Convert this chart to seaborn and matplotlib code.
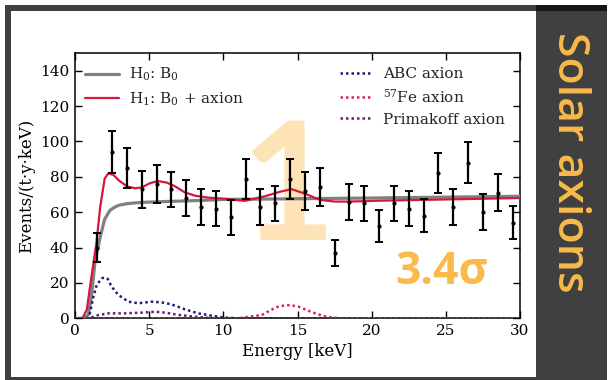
import matplotlib
matplotlib.use("Agg")
import matplotlib.pyplot as plt
from matplotlib.patches import Rectangle
from matplotlib.lines import Line2D
import numpy as np
import pandas as pd
import seaborn as sns

# Measured spectrum (bin centres, rates, 1-sigma errors)
bin_energy = [1.5, 2.5, 3.5, 4.5, 5.5, 6.5, 7.5, 8.5, 9.5, 10.5, 11.5, 12.5, 13.5, 14.5,
              15.5, 16.5, 17.5, 18.5, 19.5, 20.5, 21.5, 22.5, 23.5, 24.5, 25.5, 26.5,
              27.5, 28.5, 29.5]
bin_rate = [40, 94, 85, 73, 76, 73, 68, 63, 62, 57, 79, 63, 65, 79,
            72, 74, 37, 66, 65, 52, 65, 62, 58, 82, 63, 88,
            60, 71, 54]
bin_error = [8, 12, 11.5, 10.5, 10.7, 10, 10.3, 10, 10, 9.7, 11.3, 10, 10, 11.3,
             10.7, 10.7, 7.5, 10.2, 10, 9, 10, 10, 9.3, 11.3, 10, 11.6,
             10, 10.6, 9.3]

# Background-only model H0
h0_energy = [0, 0.6, 0.9, 1.1, 1.35, 1.7, 2.0, 2.35, 2.7, 3.0, 3.5, 4.4, 6, 8.4, 10,
             15, 20, 25, 30]
h0_rate = [0, 0, 2, 12, 32, 46, 56, 61, 63, 64, 64.8, 65.5, 66, 66.6, 67.2,
           67.6, 68, 68.5, 69]

# Background + axion model H1
h1_energy = [0, 0.5, 0.8, 1.1, 1.45, 1.7, 2.0, 2.25, 2.6, 2.95, 3.5, 4.05, 4.5, 5.05,
             5.6, 6.2, 6.75, 7.4, 8.1, 9.0, 10.1, 11.45, 12.8, 13.8, 14.6, 15.5,
             16.5, 17.5, 18.5, 20.5, 25, 30]
h1_rate = [0, 0, 5, 23, 43, 63, 79, 82, 81, 78, 74.6, 73.5, 74, 76.4,
           77.6, 76.7, 74.6, 71.2, 69.3, 68.2, 67.6, 66.4, 69, 71.5, 73, 70.5,
           67, 66, 66, 66.5, 67.2, 68]

# Axion signal components
abc_energy = [0, 0.8, 1.0, 1.24, 1.46, 1.8, 2.0, 2.2, 2.47, 2.92, 3.6, 4.27, 5.17,
              5.84, 6.5, 7.4, 8.3, 9.2, 10.1, 11, 30]
abc_rate = [0, 0, 2.8, 12.2, 18.8, 22.6, 23, 22.3, 17.9, 13.2, 9.4, 8.5, 9.4,
            9.0, 7.9, 5.1, 2.8, 1.5, 0.4, 0, 0]

fe57_energy = [0, 11, 12.6, 13.5, 13.82, 14.5, 15.06, 15.6, 16.2, 16.75, 17.4, 18, 30]
fe57_rate = [0, 0, 1.9, 6.0, 6.9, 7.5, 6.6, 4.7, 2.8, 1.3, 0.4, 0, 0]

prim_energy = [0, 0.9, 1.57, 2.25, 3.37, 4.5, 5.4, 6.07, 7.0, 8.1, 9.4, 30]
prim_rate = [0, 0, 1.8, 2.8, 2.8, 3.2, 3.7, 3.2, 1.9, 0.9, 0, 0]

x_ticks = [0, 5, 10, 15, 20, 25, 30]
y_ticks = [0, 20, 40, 60, 80, 100, 120, 140]

sns.set_theme(style="ticks")
plt.rcParams["font.family"] = ["DejaVu Serif"]
plt.rcParams["mathtext.fontset"] = "dejavuserif"

W, H = 610, 380
fig = plt.figure(figsize=(W / 100, H / 100), dpi=100, facecolor="white")

# Slide frame and side panel
fig.patches.append(Rectangle((8 / W, 0), (604 - 8) / W, (H - 8) / H, transform=fig.transFigure,
                             fill=False, edgecolor="#404040", linewidth=4.3, zorder=0))
fig.patches.append(Rectangle((536 / W, 0), (607 - 536) / W, (H - 5) / H, transform=fig.transFigure,
                             facecolor="#404040", edgecolor="none", zorder=1))
fig.patches.append(Rectangle((536 / W, 1 - 11 / H), (607 - 536) / W, 6 / H, transform=fig.transFigure,
                             facecolor="#161616", edgecolor="none", zorder=2))

ax = fig.add_axes([75 / W, 1 - 318.3 / H, (520 - 75) / W, (318.3 - 53) / H])
ax.set_facecolor("white")

# Large slide numeral behind the data
ax.text(288 / W, 1 - 193 / H, "1", transform=fig.transFigure, ha="center", va="center",
        fontsize=118, fontweight="bold", family=["Lato", "DejaVu Sans"], color="#FDE3B6", zorder=0.5)

bg = pd.DataFrame({"E": h0_energy, "rate": h0_rate})
sig = pd.DataFrame({"E": h1_energy, "rate": h1_rate})
sns.lineplot(data=bg, x="E", y="rate", ax=ax, color="#808080", linewidth=2.3, zorder=3)
sns.lineplot(data=sig, x="E", y="rate", ax=ax, color="#D6163E", linewidth=1.6, zorder=4)

dots = (0, (1, 1.2))
comp_colors = {"abc": "#1C1C78", "fe": "#D6254F", "prim": "#6E1A6E"}
for e, r, c in [(abc_energy, abc_rate, comp_colors["abc"]),
                (fe57_energy, fe57_rate, comp_colors["fe"]),
                (prim_energy, prim_rate, comp_colors["prim"])]:
    sns.lineplot(x=e, y=r, ax=ax, color=c, linewidth=1.8, linestyle=dots, zorder=3)

ax.errorbar(bin_energy, bin_rate, yerr=bin_error, fmt="o", color="black", markersize=2,
            elinewidth=1.6, capsize=2.8, capthick=1.4, zorder=5)

ax.set_xlim(0, 30)
ax.set_ylim(0, 150)
ax.set_xticks(x_ticks)
ax.set_yticks(y_ticks)
ax.tick_params(direction="in", top=True, right=True, length=5, width=1, labelsize=11,
               colors="black", pad=4)
for s in ax.spines.values():
    s.set_color("black")
    s.set_linewidth(1.1)
ax.set_xlabel("Energy [keV]", fontsize=12, color="black", labelpad=4)
ax.set_ylabel("Events/(t·y·keV)", fontsize=12, color="black")

h_left = [Line2D([], [], color="#808080", linewidth=2.3),
          Line2D([], [], color="#D6163E", linewidth=1.6)]
fig.legend(h_left, [r"H$_0$: B$_0$", r"H$_1$: B$_0$ + axion"],
           loc="upper left", bbox_to_anchor=(85 / W, 1 - 66 / H), frameon=False,
           fontsize=11, borderpad=0, borderaxespad=0, handlelength=2.2,
           handletextpad=0.7, labelspacing=0.45)
h_right = [Line2D([], [], color=comp_colors[k], linewidth=1.8, linestyle=dots)
           for k in ("abc", "fe", "prim")]
fig.legend(h_right, ["ABC axion", r"$^{57}$Fe axion", "Primakoff axion"],
           loc="upper left", bbox_to_anchor=(340 / W, 1 - 67 / H), frameon=False,
           fontsize=11, borderpad=0, borderaxespad=0, handlelength=2.0,
           handletextpad=0.8, labelspacing=0.45)

orange = "#F9B94C"
fig.text(442 / W, 1 - 273 / H, "3.4σ", ha="center", va="center", fontsize=32,
         fontweight="bold", family=["Open Sans", "DejaVu Sans"], color=orange, zorder=10)
fig.text(570 / W, 1 - 162 / H, "Solar axions", ha="center", va="center", rotation=-90,
         fontsize=32, fontweight="semibold", family=["Open Sans", "DejaVu Sans"], color=orange, zorder=10)

fig.savefig("out.png", dpi=100, facecolor="white")
